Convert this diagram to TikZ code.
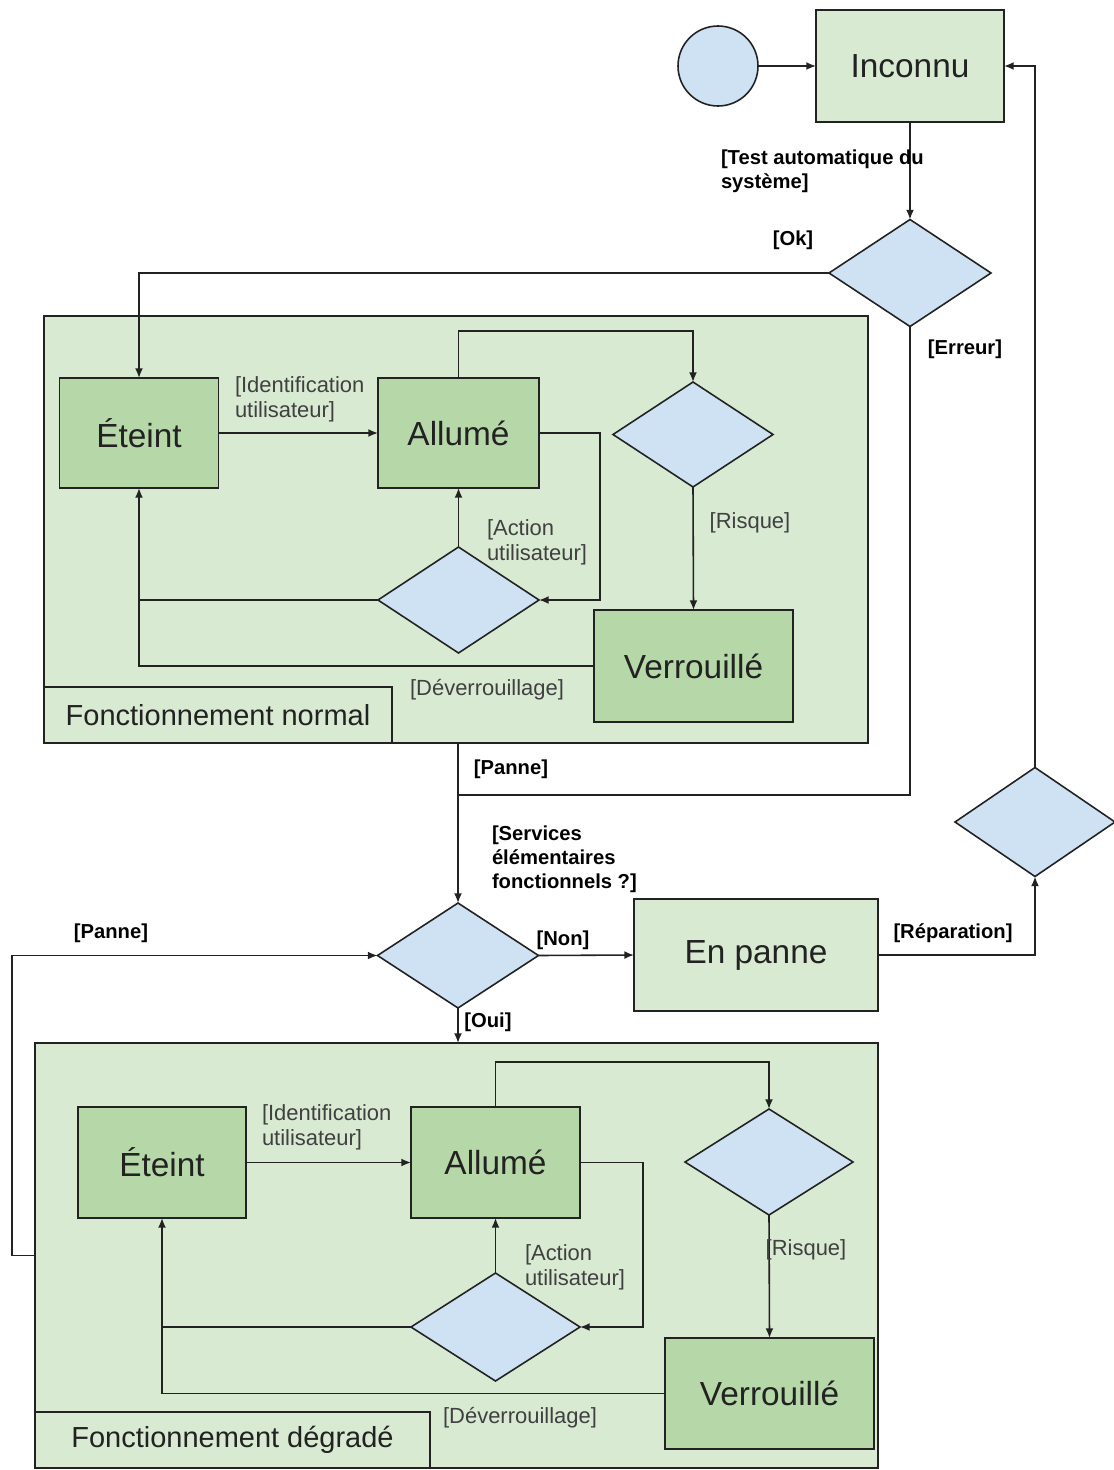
\documentclass[tikz,border=0pt]{standalone}
\usepackage{fontspec}
\setmainfont{Liberation Sans}
\usetikzlibrary{shapes.geometric,arrows.meta}
\definecolor{grpfill}{HTML}{D9EAD3}
\definecolor{statefill}{HTML}{B6D7A8}
\definecolor{choicefill}{HTML}{CFE2F3}
\definecolor{ink}{HTML}{222222}
\begin{document}
\begin{tikzpicture}[x=0.02cm,y=-0.02cm,
  line width=0.9pt,
  every node/.style={inner sep=0pt,outer sep=0pt},
  wire/.style={draw=ink,line width=0.9pt},
  arr/.style={wire,-{Latex[length=5.5pt,width=4.5pt]}},
  group/.style={draw=ink,fill=grpfill,rectangle},
  grouptag/.style={draw=ink,fill=grpfill,rectangle,font=\fontsize{16.5}{18}\selectfont,text=ink},
  statebox/.style={draw=ink,fill=statefill,rectangle,font=\fontsize{19}{22}\selectfont,text=ink},
  topbox/.style={draw=ink,fill=grpfill,rectangle,font=\fontsize{19}{22}\selectfont,text=ink},
  choice/.style={draw=ink,fill=choicefill,diamond,inner sep=0pt},
  guard/.style={font=\fontsize{12.5}{14.2}\selectfont,text=black!75,align=left},
  bguard/.style={font=\bfseries\fontsize{11.5}{13.6}\selectfont,text=black,align=left}]

\useasboundingbox (0,0) rectangle (1114,1470);

% ---- top level states ----
\node[draw=ink,fill=choicefill,circle,minimum size=80*0.02cm] (start) at (718,66) {};
\node[topbox,minimum width=188*0.02cm,minimum height=112*0.02cm] (inconnu) at (910,66) {Inconnu};
\node[choice,minimum width=162*0.02cm,minimum height=107*0.02cm] (dtest) at (910,273) {};

% ---- normal operation ----
\node[group,minimum width=824*0.02cm,minimum height=427*0.02cm] (normbox) at (456,529.5) {};
\node[grouptag,minimum width=348*0.02cm,minimum height=56*0.02cm] (normtag) at (218,715) {Fonctionnement normal};
\node[statebox,minimum width=159*0.02cm,minimum height=110*0.02cm] (eteintA) at (139,433) {Éteint};
\node[statebox,minimum width=161*0.02cm,minimum height=110*0.02cm] (allumeA) at (458.5,433) {Allumé};
\node[choice,minimum width=160*0.02cm,minimum height=105*0.02cm] (riskA) at (693,434.5) {};
\node[statebox,minimum width=199*0.02cm,minimum height=112*0.02cm] (verrA) at (693.5,666) {Verrouillé};
\node[choice,minimum width=161*0.02cm,minimum height=106*0.02cm] (actA) at (458.5,600) {};

% ---- failure handling ----
\node[choice,minimum width=161*0.02cm,minimum height=105*0.02cm] (dserv) at (458,955.5) {};
\node[topbox,minimum width=244*0.02cm,minimum height=112*0.02cm] (enpanne) at (756,955) {En panne};
\node[choice,minimum width=160*0.02cm,minimum height=109*0.02cm] (drep) at (1035,822) {};

% ---- degraded operation ----
\node[group,minimum width=843*0.02cm,minimum height=425*0.02cm] (degbox) at (456.5,1255.5) {};
\node[grouptag,minimum width=395*0.02cm,minimum height=56*0.02cm] (degtag) at (232.5,1440) {Fonctionnement dégradé};
\node[statebox,minimum width=168*0.02cm,minimum height=111*0.02cm] (eteintB) at (162,1162.5) {Éteint};
\node[statebox,minimum width=169*0.02cm,minimum height=111*0.02cm] (allumeB) at (495.5,1162.5) {Allumé};
\node[choice,minimum width=168*0.02cm,minimum height=106*0.02cm] (riskB) at (769,1162) {};
\node[statebox,minimum width=209*0.02cm,minimum height=111*0.02cm] (verrB) at (769.5,1393.5) {Verrouillé};
\node[choice,minimum width=169*0.02cm,minimum height=108*0.02cm] (actB) at (495.5,1327) {};

% ---- top level transitions ----
\draw[arr] (start.east) -- (inconnu.west);
\draw[arr] (inconnu.south) -- (dtest.north);
\draw[arr] (dtest.west) -| (eteintA.north);
\coordinate (panneJoin) at (458,795);
\draw[wire] (dtest.south) |- (panneJoin);
\draw[arr] (dserv.north |- normbox.south) -- (dserv.north);
\draw[arr] (dserv.east) -- (enpanne.west);
\draw[arr] (enpanne.east) -| (drep.south);
\draw[arr] (drep.north) |- (inconnu.east);
\draw[arr] (dserv.south) -- (dserv.south |- degbox.north);
\draw[arr] (degbox.west) -- ++(-23,0) |- (dserv.west);

% ---- transitions inside normal operation ----
\draw[arr] (eteintA.east) -- (allumeA.west);
\draw[arr] (allumeA.north) -- ++(0,-47) -| (riskA.north);
\draw[arr] (riskA.south) -- (verrA.north);
\draw[arr] (allumeA.east) -- ++(61,0) |- (actA.east);
\draw[arr] (actA.north) -- (allumeA.south);
\draw[wire] (actA.west) -- (eteintA.south |- actA.west);
\draw[arr] (verrA.west) -| (eteintA.south);

% ---- transitions inside degraded operation ----
\draw[arr] (eteintB.east) -- (allumeB.west);
\draw[arr] (allumeB.north) -- ++(0,-45) -| (riskB.north);
\draw[arr] (riskB.south) -- (verrB.north);
\draw[arr] (allumeB.east) -- ++(63,0) |- (actB.east);
\draw[arr] (actB.north) -- (allumeB.south);
\draw[wire] (actB.west) -- (eteintB.south |- actB.west);
\draw[arr] (verrB.west) -| (eteintB.south);

% ---- guards ----
\node[bguard,anchor=north west] (gtest) at (721,150) {[Test automatique du\\système]};
\node[bguard] (gok) at (793,240) {[Ok]};
\node[bguard] (gerr) at (965,349) {[Erreur]};
\node[bguard] (gpanneA) at (511,769) {[Panne]};
\node[bguard,anchor=north west] (gserv) at (492,826) {[Services\\élémentaires\\fonctionnels ?]};
\node[bguard] (gnon) at (563,940) {[Non]};
\node[bguard] (grep) at (953,933) {[Réparation]};
\node[bguard] (goui) at (488,1022) {[Oui]};
\node[bguard] (gpanneB) at (111,933) {[Panne]};

\node[guard,anchor=north west] (gidA) at (235,377) {[Identification\\utilisateur]};
\node[guard,anchor=north west] (gactA) at (487,520) {[Action\\utilisateur]};
\node[guard] (grisqA) at (750,523) {[Risque]};
\node[guard] (gdevA) at (487,690) {[Déverrouillage]};
\node[guard,anchor=north west] (gidB) at (262,1105) {[Identification\\utilisateur]};
\node[guard,anchor=north west] (gactB) at (525,1245) {[Action\\utilisateur]};
\node[guard] (grisqB) at (806,1250) {[Risque]};
\node[guard] (gdevB) at (520,1418) {[Déverrouillage]};
\end{tikzpicture}
\end{document}
